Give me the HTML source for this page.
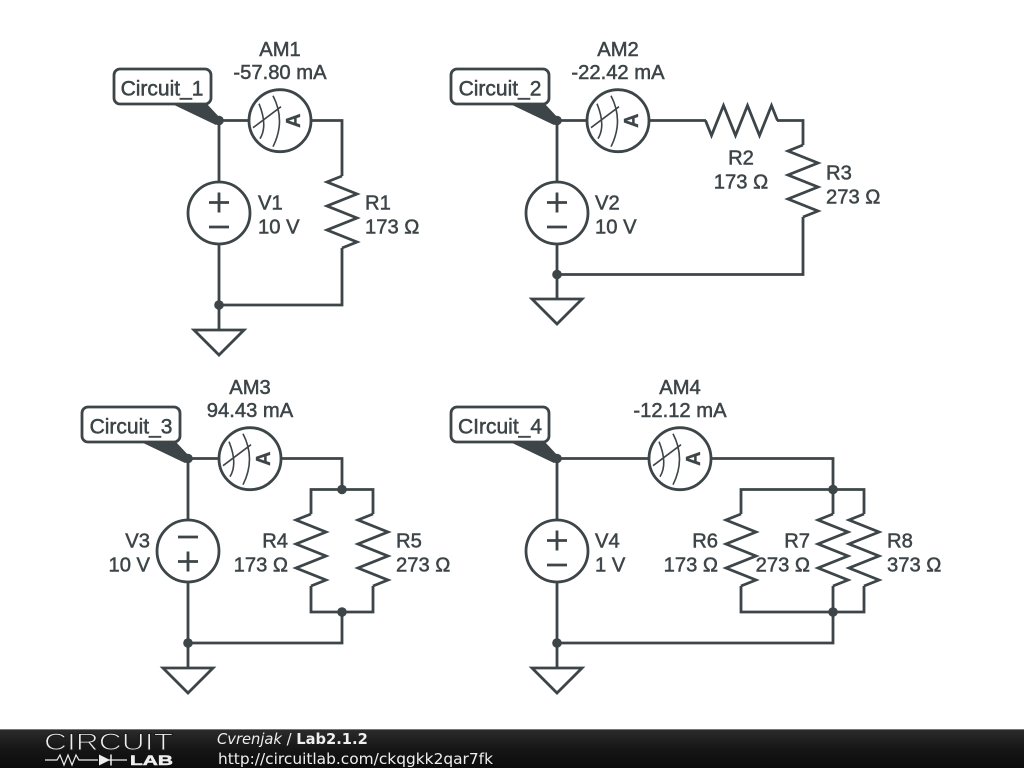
<!DOCTYPE html>
<html><head><meta charset="utf-8"><style>
html,body{margin:0;padding:0;background:#fff;width:1024px;height:768px;overflow:hidden}
svg{display:block}
.t{font-family:"Liberation Sans",Arial,sans-serif;font-size:20.2px;fill:#3d4548;stroke:#3d4548;stroke-width:.5px}
.l{font-size:21px}
.m{text-anchor:middle}.e{text-anchor:end}
.w{fill:none;stroke:#3d4548;stroke-width:2.8;stroke-linejoin:miter}
.c{fill:#fff;stroke:#3d4548;stroke-width:2.8}
.d{fill:#3d4548}
</style></head><body>
<svg width="1024" height="768" viewBox="0 0 1024 768" xmlns="http://www.w3.org/2000/svg">
<defs>
<linearGradient id="g" x1="0" y1="0" x2="0" y2="1"><stop offset="0" stop-color="#2c2c2c"/><stop offset=".5" stop-color="#161616"/><stop offset="1" stop-color="#0c0c0c"/></linearGradient>
<g id="am"><circle class="c" r="31"/><g fill="none" stroke="#3d4548" stroke-width="1.6"><path d="M-21-17Q-12 5-20 18"/><path d="M-7-25Q6 0-7 26"/><path d="M-27 7L1-14"/></g>
<text class="t" transform="translate(20,0) rotate(-90)" text-anchor="middle" y="0" style="font-size:20px;font-weight:bold;stroke-width:.3px">A</text></g>
<g id="vs"><circle class="c" r="31"/><path class="w" d="M-10-10.5H10M0-20.5V-.5M-10 14H10"/></g>
<path id="rv" class="w" d="M0-36L-15-30L15-18L-15-6L15 6L-15 18L15 30L0 36"/>
<path id="gd" class="w" d="M-25 0H25L0 25Z"/>
<circle id="dot" class="d" r="4.8"/>
</defs>

<!-- circuit 1 -->
<path class="w" d="M219 120.5H342V176M342 248V305H219M219 120V330"/>
<use href="#am" x="280" y="120.7"/><use href="#vs" x="219" y="213"/><use href="#rv" x="342" y="212"/>
<use href="#gd" x="219" y="330"/><use href="#dot" x="219" y="305"/>
<path class="d" d="M170 103H206L222 120L216 125Z"/><use href="#dot" x="219" y="120.5"/>
<rect x="114" y="69" width="97" height="35" rx="6" class="c"/>
<text class="t l" x="162" y="95.500" text-anchor="middle">Circuit_1</text>
<text class="t m" x="280" y="56">AM1</text><text class="t m" x="280" y="79">-57.80 mA</text>
<text class="t" x="258" y="209.500">V1</text><text class="t" x="258" y="233.500">10 V</text>
<text class="t" x="365" y="209.500">R1</text><text class="t" x="365" y="233.500">173 Ω</text>

<!-- circuit 2 -->
<path class="w" d="M557 120.5H706M777 120.5H803V145M803 217V274.5H557M557 120V299"/>
<use href="#am" x="618" y="120.7"/><use href="#vs" x="557" y="213"/><use href="#rv" x="803" y="181"/>
<use href="#rv" transform="translate(741.5,120.5) rotate(-90)"/>
<use href="#gd" x="557" y="299"/><use href="#dot" x="557" y="274.5"/>
<path class="d" d="M508 103H544L560 120L554 125Z"/><use href="#dot" x="557" y="120.5"/>
<rect x="451" y="69" width="98" height="35" rx="6" class="c"/>
<text class="t l" x="500" y="95.500" text-anchor="middle">Circuit_2</text>
<text class="t m" x="618" y="56">AM2</text><text class="t m" x="618" y="79">-22.42 mA</text>
<text class="t" x="595" y="209.500">V2</text><text class="t" x="595" y="233.500">10 V</text>
<text class="t m" x="741" y="164.500">R2</text><text class="t m" x="741" y="188.500">173 Ω</text>
<text class="t" x="826" y="179.500">R3</text><text class="t" x="826" y="203.500">273 Ω</text>

<!-- circuit 3 -->
<path class="w" d="M188 458.5H342V489.5M311 514V489.5H373V514M311 586V612H373V586M342 612V643H188M188 458V668"/>
<use href="#am" x="250" y="458.7"/>
<g transform="translate(188,551) scale(1,-1)"><use href="#vs"/></g>
<use href="#rv" x="311" y="550"/><use href="#rv" x="373" y="550"/>
<use href="#gd" x="188" y="668"/><use href="#dot" x="188" y="643"/><use href="#dot" x="342" y="489.5"/><use href="#dot" x="342" y="612"/>
<path class="d" d="M139 441H175L191 458L185 463Z"/><use href="#dot" x="188" y="458.5"/>
<rect x="82" y="407" width="98" height="35" rx="6" class="c"/>
<text class="t l" x="131" y="433.500" text-anchor="middle">Circuit_3</text>
<text class="t m" x="250" y="394">AM3</text><text class="t m" x="250" y="417">94.43 mA</text>
<text class="t e" x="150" y="547.500">V3</text><text class="t e" x="150" y="571.500">10 V</text>
<text class="t e" x="288" y="547.500">R4</text><text class="t e" x="288" y="571.500">173 Ω</text>
<text class="t" x="396" y="547.500">R5</text><text class="t" x="396" y="571.500">273 Ω</text>

<!-- circuit 4 -->
<path class="w" d="M557 458.5H833V489.5M741 514V489.5H864V514M833 489V514M741 586V612H864V586M833 586V643H557M557 458V668"/>
<use href="#am" x="680" y="458.7"/><use href="#vs" x="557" y="551"/>
<use href="#rv" x="741" y="550"/><use href="#rv" x="833" y="550"/><use href="#rv" x="864" y="550"/>
<use href="#gd" x="557" y="668"/><use href="#dot" x="557" y="643"/><use href="#dot" x="833" y="489.5"/><use href="#dot" x="833" y="612"/>
<path class="d" d="M508 441H544L560 458L554 463Z"/><use href="#dot" x="557" y="458.5"/>
<rect x="451" y="407" width="98" height="35" rx="6" class="c"/>
<text class="t l" x="500" y="433.500" text-anchor="middle">CIrcuit_4</text>
<text class="t m" x="680" y="394">AM4</text><text class="t m" x="680" y="417">-12.12 mA</text>
<text class="t" x="595" y="547.500">V4</text><text class="t" x="595" y="571.500">1 V</text>
<text class="t e" x="718" y="547.500">R6</text><text class="t e" x="718" y="571.500">173 Ω</text>
<text class="t e" x="810" y="547.500">R7</text><text class="t e" x="810" y="571.500">273 Ω</text>
<text class="t" x="887" y="547.500">R8</text><text class="t" x="887" y="571.500">373 Ω</text>

<!-- footer -->
<rect x="0" y="729" width="1024" height="39" fill="url(#g)"/>
<rect x="0" y="729" width="1024" height="1" fill="#777"/>
<text x="44" y="750" textLength="129" lengthAdjust="spacingAndGlyphs" style="font-family:'Liberation Sans',sans-serif;font-size:24px;font-weight:normal" fill="#eee" stroke="#1c1c1c" stroke-width="1">CIRCUIT</text>
<path d="M45 760H57L60 755L64 765L68 755L72 765L76 755L79 760H98M127 760H107" fill="none" stroke="#eee" stroke-width="1.2"/>
<path d="M99 754.500L110 760L99 765.500Z" fill="#eee"/><path d="M111 754.500V765.500" stroke="#eee" stroke-width="1.5"/>
<text x="130" y="765" textLength="43" lengthAdjust="spacingAndGlyphs" style="font-family:'Liberation Sans',sans-serif;font-size:14px;font-weight:bold" fill="#eee" stroke="#eee" stroke-width=".5">LAB</text>
<text x="217" y="744" style="font-family:'DejaVu Sans',sans-serif;font-size:14.7px" fill="#eee"><tspan font-style="italic">Cvrenjak</tspan> / <tspan font-weight="bold">Lab2.1.2</tspan></text>
<text x="218" y="764" style="font-family:'DejaVu Sans',sans-serif;font-size:15.4px" fill="#eee">http://circuitlab.com/ckqgkk2qar7fk</text>
</svg>
</body></html>
